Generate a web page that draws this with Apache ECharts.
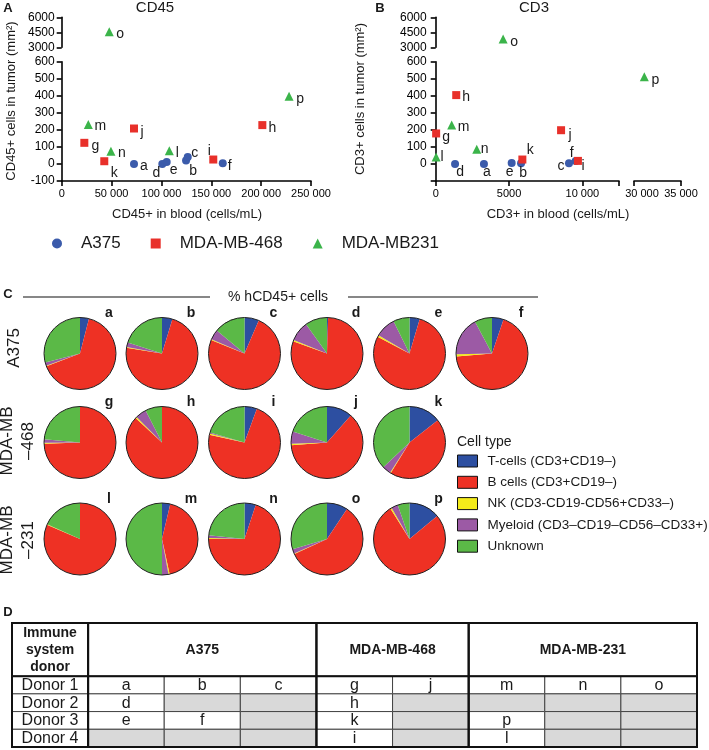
<!DOCTYPE html>
<html><head><meta charset="utf-8">
<script src="https://cdn.jsdelivr.net/npm/echarts@6/dist/echarts.min.js"></script>
<style>html,body{margin:0;padding:0;background:#fff}#c{width:709px;height:750px}</style>
</head><body><div id="c"></div>
<script>
// ================= DATA =================
const groups = ['A375', 'MDA-MB-468', 'MDA-MB231'];
const pointIds = ['a','b','c','d','e','f','g','h','i','j','k','l','m','n','o','p'];
const pointGroup = [0,0,0,0,0,0,1,1,1,1,1,2,2,2,2,2];
// Panel A: CD45
const cd45Blood = [72500,124700,126400,100900,105300,161500,22700,201200,152000,72500,42700,107900,26700,49400,47700,228000];
const cd45Tumor = [0,20,41,0,12,4,124,228,26,208,16,77,232,75,4560,398];
// Panel B: CD3
const cd3Blood = [3290,5820,9090,1320,5180,9550,30,1400,9700,8550,5910,30,1090,2800,4600,31100];
const cd3Tumor = [0,4,4,0,6,18,179,404,18,198,26,41,228,86,3830,512];
// Panel C: % hCD45+ cells per tumour (a..p)
const cellTypes = ['T-cells (CD3+CD19–)','B cells (CD3+CD19–)','NK (CD3-CD19-CD56+CD33–)','Myeloid (CD3–CD19–CD56–CD33+)','Unknown'];
const tCells   = [4,4.7,6.5,0.5,4.6,5.2, 0,0,5.6,11.5,14.4, 0,3.7,5.1,9.4,14];
const bCells   = [65.2,72.8,74.6,80,78.1,68.5, 74.5,86.9,72.8,62.3,44.4, 81.5,42.9,69.9,58.7,77.1];
const nkCells  = [0.3,0.4,0.4,0.6,0.8,1, 0.4,0.6,0.6,0.6,0.3, 0.2,0.5,0.4,0.3,0.6];
const myeloid  = [1.5,2,4.5,9,9.2,17.5, 1.5,5,0.5,5.6,3.9, 0,2.9,1.3,2,3];
const unknown  = [29,20.1,14,9.9,7.3,7.8, 23.6,7.5,20.5,20,37, 18.3,50,23.3,29.6,5.3];
const pieRowLabels = ['A375', 'MDA-MB\n–468', 'MDA-MB\n–231'];
// Panel D: table
const donors = ['Donor 1','Donor 2','Donor 3','Donor 4'];
const tableGroups = ['A375','MDA-MB-468','MDA-MB-231'];
const tableGroupCols = [3,2,3];
const tableCells = [
  ['a','b','c','g','j','m','n','o'],
  ['d','','','h','','','',''],
  ['e','f','','k','','p','',''],
  ['','','','i','','l','','']
];

// ================= STYLE / LAYOUT =================
const FONT = 'Liberation Sans, Arial, sans-serif';
const INK = '#1a1a1a';
const groupColor = ['#3b5bab', '#e8302a', '#3bb44a'];
const groupSymbol = ['circle', 'rect', 'triangle'];
const groupSize = [8, 8, 9];
const cellColors = ['#2d4fa1', '#ee3124', '#f4ec1a', '#9c5aa5', '#5bb947'];
const labelOffA = {o:[11,2],p:[11,3],m:[12,2],j:[8,4],h:[10,3],g:[11,3],n:[11,2],l:[8,2],k:[10,12],i:[-4,-8],a:[10,2],d:[-6,9],e:[7,8],b:[7,11],c:[7,-4],f:[7,3]};
const labelOffB = {o:[11,3],p:[11,3],h:[10,2],m:[12,2],g:[10,4],j:[9,5],n:[8,0],l:[6,0],k:[8,-9],d:[5,8],a:[3,8],e:[-2,9],b:[2,10],c:[-8,3],f:[-4,-8],i:[5,5]};
const pieColX = [80, 162, 244.5, 327, 409.5, 492];
const pieRowY = [353.5, 442.5, 539];
const pieR = 36;

function fmtNum(v) {
  if (Math.abs(v) >= 10000) return String(v).replace(/\B(?=(\d{3})+(?!\d))/g, ' ');
  return String(v);
}

const axisLineStyle = {color: '#000', width: 1.6};
function valAxis(o) {
  return Object.assign({
    type: 'value', splitLine: {show: false},
    axisLine: {show: true, onZero: false, lineStyle: axisLineStyle},
    axisTick: {show: true, length: 5, lineStyle: axisLineStyle},
    axisLabel: {color: '#000', fontSize: 12, fontFamily: FONT}
  }, o);
}
function yLab(margin, hideNeg) {
  return {color: '#000', fontSize: 12, fontFamily: FONT, margin: margin,
    formatter: v => (hideNeg && v < 0 ? '' : String(v))};
}

// grids: 0 A-upper, 1 A-lower, 2 B-upper, 3 B-lower-left, 4 B-lower-right, 5 table
const grids = [
  {left: 61.7, width: 249.3, top: 17.3, height: 30},
  {left: 61.7, width: 249.3, top: 61.7, height: 119.3},
  {left: 435.7, width: 183.3, top: 17.3, height: 30},
  {left: 435.7, width: 183.3, top: 61.7, height: 119.3},
  {left: 634, width: 47, top: 61.7, height: 119.3},
  {left: 12, width: 685, top: 623, height: 124}
];
const xAxes = [
  valAxis({gridIndex: 0, min: 0, max: 250000, show: false}),
  valAxis({gridIndex: 1, min: 0, max: 250000, interval: 50000,
    axisLabel: {color: '#000', fontSize: 11, fontFamily: FONT, margin: 7, formatter: fmtNum}}),
  valAxis({gridIndex: 2, min: 0, max: 12500, show: false}),
  valAxis({gridIndex: 3, min: 0, max: 12500, interval: 5000,
    axisLabel: {color: '#000', fontSize: 11, fontFamily: FONT, margin: 7,
      formatter: v => (v % 5000 === 0 ? fmtNum(v) : '')}}),
  valAxis({gridIndex: 4, min: 30000, max: 35000, interval: 5000,
    axisLabel: {color: '#000', fontSize: 11, fontFamily: FONT, margin: 7,
      formatter: v => (v === 30000 ? '{s|' + fmtNum(v) + '}' : fmtNum(v)),
      rich: {s: {fontSize: 11, fontFamily: FONT, color: '#000', padding: [0, 0, 0, 16]}}}}),
  {gridIndex: 5, type: 'value', min: 0, max: 9, show: false}
];
const yAxes = [
  valAxis({gridIndex: 0, min: 3000, max: 6000, interval: 1500, axisLabel: yLab(7, false)}),
  valAxis({gridIndex: 1, min: -100, max: 600, interval: 100, axisLabel: yLab(7, false)}),
  valAxis({gridIndex: 2, min: 3000, max: 6000, interval: 1500, axisLabel: yLab(9, false)}),
  valAxis({gridIndex: 3, min: -100, max: 600, interval: 100, axisLabel: yLab(9, true)}),
  valAxis({gridIndex: 4, min: -100, max: 600, show: false}),
  {gridIndex: 5, type: 'value', min: 0, max: 7, inverse: true, show: false}
];

// ---------- scatter series ----------
const series = [];
function addScatter(blood, tumor, offs, segOf, axesOf) {
  const drawOrder = [1, 2, 0];
  drawOrder.forEach(g => {
    const buckets = {};
    pointIds.forEach((id, i) => {
      if (pointGroup[i] !== g) return;
      const seg = segOf(blood[i], tumor[i]);
      (buckets[seg] = buckets[seg] || []).push({
        name: id, value: [blood[i], tumor[i]],
        label: {offset: offs[id]}
      });
    });
    Object.keys(buckets).forEach(seg => {
      const ax = axesOf[seg];
      series.push({
        type: 'scatter', name: groups[g], xAxisIndex: ax, yAxisIndex: ax,
        symbol: groupSymbol[g], symbolSize: groupSize[g], clip: false,
        itemStyle: {color: groupColor[g], opacity: 1},
        label: {show: true, position: 'inside', formatter: '{b}', color: INK, fontSize: 14, fontFamily: FONT},
        emphasis: {disabled: true},
        data: buckets[seg], z: 3 + g
      });
    });
  });
}
addScatter(cd45Blood, cd45Tumor, labelOffA, (x, y) => (y >= 3000 ? 'u' : 'l'), {u: 0, l: 1});
addScatter(cd3Blood, cd3Tumor, labelOffB, (x, y) => (y >= 3000 ? 'u' : (x >= 30000 ? 'r' : 'l')), {u: 2, l: 3, r: 4});

// ---------- pies ----------
const cellSeries = [tCells, bCells, nkCells, myeloid, unknown];
const graphics = [];
let rowIdx = -1, colIdx = 0, lastG = -1;
pointIds.forEach((id, i) => {
  if (pointGroup[i] !== lastG) { lastG = pointGroup[i]; rowIdx++; colIdx = 0; }
  const cx = pieColX[colIdx], cy = pieRowY[rowIdx];
  colIdx++;
  series.push({
    type: 'pie', name: 'pie-' + id, center: [cx, cy], radius: pieR,
    startAngle: 90, clockwise: true, silent: true, animation: false,
    label: {show: false}, labelLine: {show: false}, emphasis: {disabled: true},
    itemStyle: {borderWidth: 0},
    data: cellTypes.map((n, k) => ({name: n, value: cellSeries[k][i], itemStyle: {color: cellColors[k]}}))
  });
  series.push({
    type: 'pie', name: 'outline-' + id, center: [cx, cy], radius: pieR, silent: true,
    label: {show: false}, labelLine: {show: false}, emphasis: {disabled: true},
    data: [{value: 1, name: ' ', itemStyle: {color: 'rgba(0,0,0,0)', borderColor: '#222', borderWidth: 1}}], z: 3
  });
  graphics.push({type: 'text', x: cx + 29, y: cy - 40,
    style: {text: id, fill: INK, font: 'bold 14px ' + FONT, align: 'center', verticalAlign: 'middle'}});
});

// ---------- table ----------
const tableItems = [];
const GRAY = '#d9d9d9';
tableItems.push({c0: 0, c1: 1, r0: 0, r1: 3, text: 'Immune\nsystem\ndonor', bold: true, fill: '#fff'});
let c = 1;
tableGroups.forEach((gName, gi) => {
  tableItems.push({c0: c, c1: c + tableGroupCols[gi], r0: 0, r1: 3, text: gName, bold: true, fill: '#fff'});
  c += tableGroupCols[gi];
});
donors.forEach((d, ri) => {
  tableItems.push({c0: 0, c1: 1, r0: 3 + ri, r1: 4 + ri, text: d, fill: '#fff'});
  tableCells[ri].forEach((v, ci) => {
    tableItems.push({c0: 1 + ci, c1: 2 + ci, r0: 3 + ri, r1: 4 + ri, text: v, fill: v ? '#fff' : GRAY});
  });
});
const frames = [{c0: 0, c1: 1}];
c = 1;
tableGroupCols.forEach(n => { frames.push({c0: c, c1: c + n}); c += n; });
frames.forEach(f => tableItems.push({c0: f.c0, c1: f.c1, r0: 0, r1: 7, frame: true}));
tableItems.push({c0: 0, c1: 9, r0: 0, r1: 3, frame: true});

series.push({
  type: 'custom', xAxisIndex: 5, yAxisIndex: 5, clip: false, silent: true, animation: false,
  encode: {x: [0, 2], y: [1, 3]},
  data: tableItems.map(t => [t.c0, t.r0, t.c1, t.r1]),
  renderItem: function (params, api) {
    const it = tableItems[params.dataIndex];
    const p0 = api.coord([api.value(0), api.value(1)]);
    const p1 = api.coord([api.value(2), api.value(3)]);
    const x = Math.min(p0[0], p1[0]), y = Math.min(p0[1], p1[1]);
    const w = Math.abs(p1[0] - p0[0]), h = Math.abs(p1[1] - p0[1]);
    if (it.frame) {
      return {type: 'rect', shape: {x: x, y: y, width: w, height: h}, style: {fill: 'none', stroke: '#111', lineWidth: 2}};
    }
    const ch = [{type: 'rect', shape: {x: x, y: y, width: w, height: h}, style: {fill: it.fill, stroke: '#444', lineWidth: 1}}];
    if (it.text) {
      ch.push({type: 'text', style: {
        text: it.text, x: x + w / 2, y: y + h / 2 + 0.5, align: 'center', verticalAlign: 'middle',
        fill: INK, fontFamily: FONT, fontSize: it.bold ? 14 : 16, fontWeight: it.bold ? 'bold' : 'normal',
        lineHeight: 17}});
    }
    return {type: 'group', children: ch};
  }
});

// ---------- text annotations ----------
function txt(x, y, s, font, extra) {
  return Object.assign({type: 'text', x: x, y: y,
    style: {text: s, fill: INK, font: font, align: 'center', verticalAlign: 'middle', lineHeight: 21}}, extra || {});
}
graphics.push(
  txt(8, 8, 'A', 'bold 13px ' + FONT),
  txt(380, 8, 'B', 'bold 13px ' + FONT),
  txt(155, 8, 'CD45', '15px ' + FONT),
  txt(534, 8, 'CD3', '15px ' + FONT),
  txt(11, 101, 'CD45+ cells in tumor (mm²)', '13px ' + FONT, {rotation: Math.PI / 2}),
  txt(360, 99, 'CD3+ cells in tumor (mm²)', '13px ' + FONT, {rotation: Math.PI / 2}),
  txt(187, 214, 'CD45+ in blood (cells/mL)', '13px ' + FONT),
  txt(558, 214, 'CD3+ in blood (cells/mL)', '13px ' + FONT),
  txt(8, 294, 'C', 'bold 13px ' + FONT),
  txt(278, 297, '% hCD45+ cells', '14px ' + FONT),
  {type: 'line', shape: {x1: 23, y1: 297, x2: 210, y2: 297}, style: {stroke: '#111', lineWidth: 1.2}},
  {type: 'line', shape: {x1: 348, y1: 297, x2: 538, y2: 297}, style: {stroke: '#111', lineWidth: 1.2}},
  txt(14, 348, pieRowLabels[0], '17px ' + FONT, {rotation: Math.PI / 2}),
  txt(17.5, 441, pieRowLabels[1], '17px ' + FONT, {rotation: Math.PI / 2}),
  txt(17.5, 540, pieRowLabels[2], '17px ' + FONT, {rotation: Math.PI / 2}),
  {type: 'text', x: 457, y: 442, style: {text: 'Cell type', fill: INK, font: '14px ' + FONT, align: 'left', verticalAlign: 'middle'}},
  txt(8, 612, 'D', 'bold 13px ' + FONT)
);

const chart = echarts.init(document.getElementById('c'), null, {renderer: 'canvas'});
chart.setOption({
  animation: false,
  textStyle: {fontFamily: FONT},
  grid: grids,
  xAxis: xAxes,
  yAxis: yAxes,
  legend: [
    {data: groups, left: 52, top: 235, padding: 0, orient: 'horizontal', itemWidth: 10, itemHeight: 10, itemGap: 30,
      selectedMode: false, textStyle: {fontSize: 17, color: INK, fontFamily: FONT, padding: [0, 0, 0, 14]}},
    {data: cellTypes, left: 457, top: 454, padding: 0, orient: 'vertical', itemWidth: 20, itemHeight: 12, itemGap: 7.3,
      icon: 'rect', selectedMode: false, itemStyle: {borderColor: '#111', borderWidth: 1},
      textStyle: {fontSize: 13.5, color: INK, fontFamily: FONT, padding: [0, 0, 0, 5]}}
  ],
  series: series,
  graphic: graphics
});
</script></body></html>
